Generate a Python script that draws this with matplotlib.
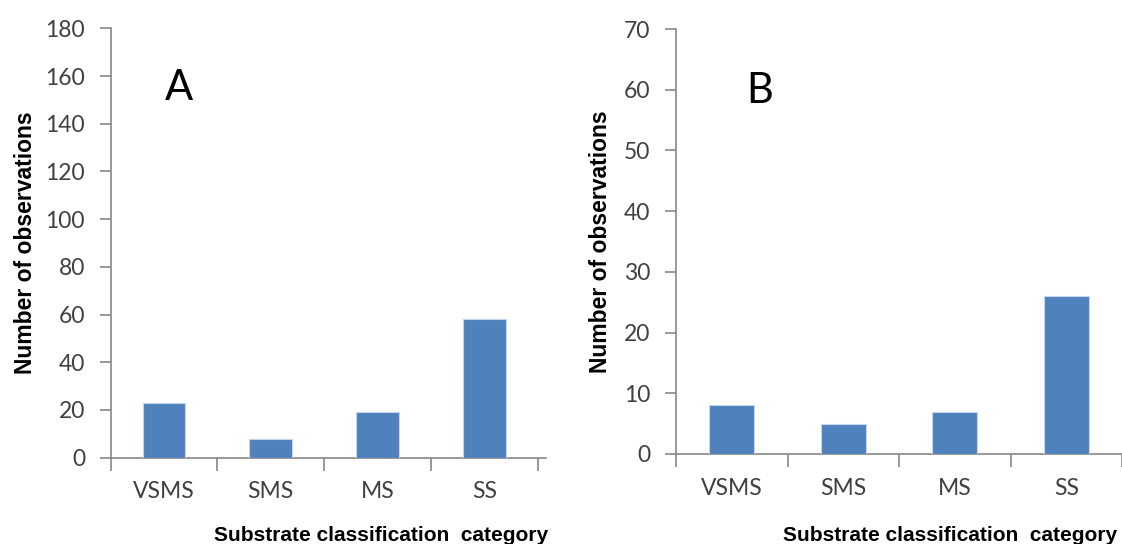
import matplotlib
matplotlib.use("Agg")
import matplotlib.pyplot as plt

categories = ["VSMS", "SMS", "MS", "SS"]
counts_a = [23, 8, 19, 58]
counts_b = [8, 5, 7, 26]
yticks_a = list(range(0, 181, 20))
yticks_b = list(range(0, 71, 10))

W, H = 1122, 544
BAR_COLOR = "#4F81BD"
AXIS_COLOR = "#888888"
TEXT_COLOR = "#404040"


def px_axes(fig, left, right, top, bottom):
    return fig.add_axes([left / W, 1 - bottom / H, (right - left) / W, (bottom - top) / H])


def draw_panel(ax, values, yticks, xmax, letter, letter_xy, ylabel_x):
    n = len(values)
    centers = [i + 0.5 for i in range(n)]
    ax.bar(centers, values, width=0.4, color=BAR_COLOR, edgecolor="#c5d6ec", linewidth=0.8, zorder=3)
    ax.set_xlim(0, xmax)
    ax.set_ylim(yticks[0], yticks[-1])
    ax.set_yticks(yticks)
    ax.set_yticklabels([str(v) for v in yticks], fontsize=16.5, color=TEXT_COLOR, family="Lato")
    ax.set_xticks(range(n + 1))
    ax.set_xticklabels([])
    ax.set_xticks(centers, minor=True)
    ax.set_xticklabels(categories, minor=True, fontsize=16.5, color=TEXT_COLOR, family="Lato")
    ax.tick_params(axis="x", which="major", length=9, width=1.2, color=AXIS_COLOR, direction="out")
    ax.tick_params(axis="x", which="minor", length=0, pad=17)
    ax.tick_params(axis="y", length=8, width=1.2, color=AXIS_COLOR, direction="out", pad=10.5)
    for side in ("top", "right"):
        ax.spines[side].set_visible(False)
    for side in ("left", "bottom"):
        ax.spines[side].set_color(AXIS_COLOR)
        ax.spines[side].set_linewidth(1.2)
    ax.set_ylabel("Number of observations", fontsize=16.5, fontweight="bold",
                  family="Liberation Sans", color="black")
    ax.yaxis.set_label_coords(ylabel_x, 0.5)
    ax.text(letter_xy[0], letter_xy[1], letter, transform=ax.transAxes, fontsize=30,
            family="Lato", color="black", ha="center", va="center")


fig = plt.figure(figsize=(W / 100, H / 100), dpi=100)

ax_a = px_axes(fig, 110.7, 545.7, 28.3, 457.7)
draw_panel(ax_a, counts_a, yticks_a, 435 / 106.75, "A", (0.156, 0.862), -0.169)

ax_b = px_axes(fig, 676, 1122, 29, 454)
draw_panel(ax_b, counts_b, yticks_b, 446 / 112, "B", (0.188, 0.855), -0.143)

for cx in (381, 950):
    fig.text(cx / W, 1 - 541 / H, "Substrate classification  category", fontsize=15,
             fontweight="bold", family="Liberation Sans", ha="center", va="baseline")

fig.savefig("out.png", dpi=100)
